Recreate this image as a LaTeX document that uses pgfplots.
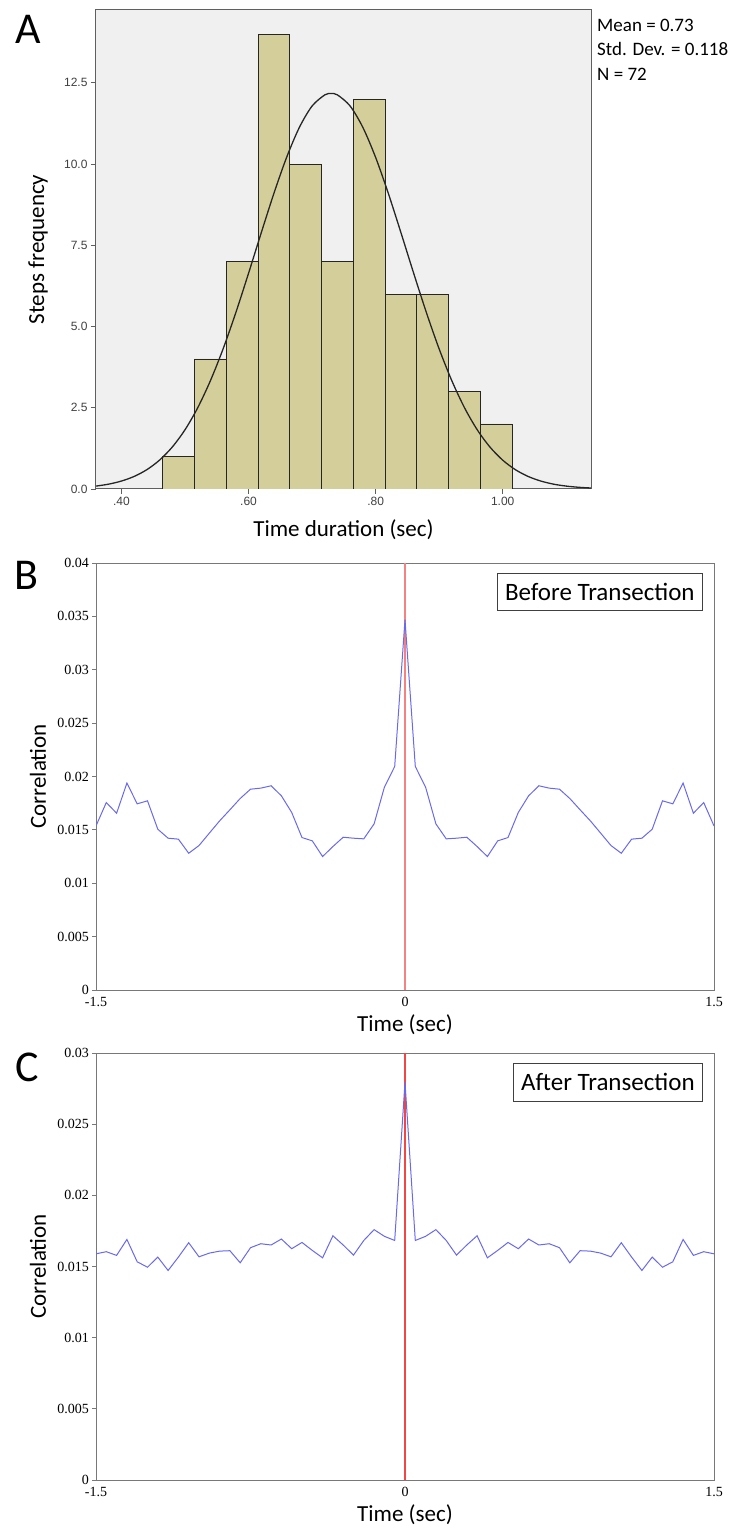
\documentclass[border=0pt]{standalone}
\usepackage{fontspec}
\setmainfont{Carlito}
\newfontfamily\tnr{Liberation Serif}
\newfontfamily\arialf{Liberation Sans}
\usepackage{pgfplots}
\pgfplotsset{compat=1.18}
\definecolor{khaki}{RGB}{212,207,154}
\definecolor{bgA}{RGB}{240,240,240}
\definecolor{frameA}{RGB}{95,95,95}
\definecolor{frameB}{RGB}{120,120,120}
\definecolor{lineblue}{RGB}{105,105,238}
\definecolor{redB}{RGB}{245,130,130}
\definecolor{redC}{RGB}{240,70,70}

\pgfplotstableread{
x y
-1.50 0.01537
-1.45 0.01756
-1.40 0.01656
-1.35 0.01938
-1.30 0.01744
-1.25 0.01772
-1.20 0.01506
-1.15 0.01422
-1.10 0.01413
-1.05 0.01281
-1.00 0.01353
-0.95 0.01469
-0.90 0.01584
-0.85 0.01688
-0.80 0.01794
-0.75 0.01881
-0.70 0.01891
-0.65 0.01913
-0.60 0.01819
-0.55 0.01663
-0.50 0.01428
-0.45 0.01397
-0.40 0.01250
-0.35 0.01344
-0.30 0.01431
-0.25 0.01422
-0.20 0.01416
-0.15 0.01556
-0.10 0.01900
-0.05 0.02094
0.00 0.03469
0.05 0.02094
0.10 0.01900
0.15 0.01556
0.20 0.01416
0.25 0.01422
0.30 0.01431
0.35 0.01344
0.40 0.01250
0.45 0.01397
0.50 0.01428
0.55 0.01663
0.60 0.01819
0.65 0.01913
0.70 0.01891
0.75 0.01881
0.80 0.01794
0.85 0.01688
0.90 0.01584
0.95 0.01469
1.00 0.01353
1.05 0.01281
1.10 0.01413
1.15 0.01422
1.20 0.01506
1.25 0.01772
1.30 0.01744
1.35 0.01938
1.40 0.01656
1.45 0.01756
1.50 0.01537
}\before

\pgfplotstableread{
x y
-1.50 0.01589
-1.45 0.01604
-1.40 0.01578
-1.35 0.01690
-1.30 0.01533
-1.25 0.01495
-1.20 0.01566
-1.15 0.01472
-1.10 0.01566
-1.05 0.01667
-1.00 0.01568
-0.95 0.01594
-0.90 0.01608
-0.85 0.01611
-0.80 0.01526
-0.75 0.01632
-0.70 0.01660
-0.65 0.01651
-0.60 0.01693
-0.55 0.01625
-0.50 0.01669
-0.45 0.01613
-0.40 0.01561
-0.35 0.01716
-0.30 0.01651
-0.25 0.01580
-0.20 0.01683
-0.15 0.01759
-0.10 0.01712
-0.05 0.01683
0.00 0.02795
0.05 0.01683
0.10 0.01712
0.15 0.01759
0.20 0.01683
0.25 0.01580
0.30 0.01651
0.35 0.01716
0.40 0.01561
0.45 0.01613
0.50 0.01669
0.55 0.01625
0.60 0.01693
0.65 0.01651
0.70 0.01660
0.75 0.01632
0.80 0.01526
0.85 0.01611
0.90 0.01608
0.95 0.01594
1.00 0.01568
1.05 0.01667
1.10 0.01566
1.15 0.01472
1.20 0.01566
1.25 0.01495
1.30 0.01533
1.35 0.01690
1.40 0.01578
1.45 0.01604
1.50 0.01589
}\after

\begin{document}
\begin{tikzpicture}
\useasboundingbox (0,0) rectangle (738bp,1528bp);

% ---------------- Panel A ----------------
\begin{axis}[
  at={(96bp,1039bp)}, anchor=south west, scale only axis,
  width=495bp, height=479bp,
  xmin=0.36, xmax=1.139, ymin=0, ymax=14.74,
  axis background/.style={fill=bgA},
  axis line style={frameA, line width=1bp},
  xtick={0.4,0.6,0.8,1.0}, xticklabels={.40,.60,.80,1.00},
  ytick={0,2.5,5,7.5,10,12.5}, yticklabels={0.0,2.5,5.0,7.5,10.0,12.5},
  tick align=outside, xtick pos=bottom, ytick pos=left, major tick length=5bp,
  tick style={frameA, line width=0.8bp},
  ticklabel style={font=\arialf\fontsize{12bp}{14bp}\selectfont, text=black!75},
  xlabel={Time duration (sec)}, ylabel={Steps frequency},
  label style={font=\fontsize{23bp}{27bp}\selectfont},
  xlabel style={at={(axis description cs:0.5,-0.0856)}, anchor=center},
  ylabel style={at={(axis description cs:-0.1172,0.5)}, anchor=center},
]
\addplot[ybar interval, fill=khaki, draw=black!85, line width=0.8bp] coordinates {
(0.465,1)(0.515,4)(0.565,7)(0.615,14)(0.665,10)(0.715,7)(0.765,12)(0.815,6)(0.865,6)(0.915,3)(0.965,2)(1.015,2)};
\addplot[black!85, line width=1.3bp, smooth, no marks] coordinates {
(0.36,0.089)(0.38,0.149)(0.40,0.244)(0.42,0.386)(0.44,0.594)(0.46,0.888)(0.48,1.290)(0.50,1.820)(0.52,2.497)(0.54,3.330)(0.56,4.311)(0.58,5.425)(0.60,6.634)(0.62,7.881)(0.64,9.098)(0.66,10.206)(0.68,11.125)(0.70,11.783)(0.72,12.126)(0.73,12.17)(0.74,12.126)(0.76,11.783)(0.78,11.125)(0.80,10.206)(0.82,9.098)(0.84,7.881)(0.86,6.634)(0.88,5.425)(0.90,4.311)(0.92,3.330)(0.94,2.497)(0.96,1.820)(0.98,1.290)(1.00,0.888)(1.02,0.594)(1.04,0.386)(1.06,0.244)(1.08,0.149)(1.10,0.089)(1.12,0.052)(1.139,0.030)};
\end{axis}

\node[anchor=west, font=\fontsize{19bp}{22bp}\selectfont, inner sep=0pt] at (597bp,1503bp) {Mean = 0.73};
\node[anchor=west, font=\fontsize{19bp}{22bp}\selectfont, inner sep=0pt] at (597bp,1479bp) {Std. Dev. = 0.118};
\node[anchor=west, font=\fontsize{19bp}{22bp}\selectfont, inner sep=0pt] at (597bp,1454bp) {N = 72};

% ---------------- Panel B ----------------
\begin{axis}[
  at={(96bp,538bp)}, anchor=south west, scale only axis,
  width=618bp, height=427bp,
  xmin=-1.5, xmax=1.5, ymin=0, ymax=0.04,
  axis line style={frameB, line width=0.9bp},
  xtick={-1.5,0,1.5}, xticklabels={-1.5,0,1.5},
  ytick={0,0.005,0.01,0.015,0.02,0.025,0.03,0.035,0.04},
  yticklabels={0,0.005,0.01,0.015,0.02,0.025,0.03,0.035,0.04},
  scaled y ticks=false,
  ytick pos=left, tick align=outside, major tick length=3.5bp,
  x tick style={draw=none}, y tick style={frameB, line width=0.8bp},
  ticklabel style={font=\tnr\fontsize{14bp}{16bp}\selectfont},
  xlabel={Time (sec)}, ylabel={Correlation},
  label style={font=\fontsize{23bp}{27bp}\selectfont},
  xlabel style={at={(axis description cs:0.5,-0.082)}, anchor=center},
  ylabel style={at={(axis description cs:-0.0939,0.5)}, anchor=center},
]
\pgfplotsinvokeforeach{0.005,0.01,0.015,0.02,0.025,0.03,0.035}{
  \draw[frameB, line width=0.8bp] (axis cs:1.5,#1) -- ++(-6bp,0);
}
\addplot[redB, line width=1.4bp] coordinates {(0,0)(0,0.04)};
\addplot[lineblue, line width=1bp, no marks] table[x=x,y=y] {\before};
\node[draw=black!75, line width=0.8bp, anchor=north east, inner xsep=8bp, minimum height=37bp,
  font=\fontsize{25bp}{30bp}\selectfont, xshift=-11bp, yshift=-10bp] at (rel axis cs:1,1) {Before Transection};
\end{axis}

% ---------------- Panel C ----------------
\begin{axis}[
  at={(96bp,48bp)}, anchor=south west, scale only axis,
  width=618bp, height=427bp,
  xmin=-1.5, xmax=1.5, ymin=0, ymax=0.03,
  axis line style={frameB, line width=0.9bp},
  xtick={-1.5,0,1.5}, xticklabels={-1.5,0,1.5},
  ytick={0,0.005,0.01,0.015,0.02,0.025,0.03},
  yticklabels={0,0.005,0.01,0.015,0.02,0.025,0.03},
  scaled y ticks=false,
  ytick pos=left, tick align=outside, major tick length=3.5bp,
  x tick style={draw=none}, y tick style={frameB, line width=0.8bp},
  ticklabel style={font=\tnr\fontsize{14bp}{16bp}\selectfont},
  xlabel={Time (sec)}, ylabel={Correlation},
  label style={font=\fontsize{23bp}{27bp}\selectfont},
  xlabel style={at={(axis description cs:0.5,-0.082)}, anchor=center},
  ylabel style={at={(axis description cs:-0.0939,0.5)}, anchor=center},
]
\pgfplotsinvokeforeach{0.005,0.01,0.015,0.02,0.025}{
  \draw[frameB, line width=0.8bp] (axis cs:1.5,#1) -- ++(-6bp,0);
}
\addplot[redC, line width=1.2bp] coordinates {(0,0)(0,0.03)};
\addplot[lineblue, line width=1bp, no marks] table[x=x,y=y] {\after};
\node[draw=black!75, line width=0.8bp, anchor=north east, inner xsep=8bp, minimum height=38bp,
  font=\fontsize{25bp}{30bp}\selectfont, xshift=-11bp, yshift=-10bp] at (rel axis cs:1,1) {After Transection};
\end{axis}

% panel letters
\node[font=\fontsize{44bp}{50bp}\selectfont] at (28bp,1499bp) {A};
\node[font=\fontsize{44bp}{50bp}\selectfont] at (26bp,953bp) {B};
\node[font=\fontsize{44bp}{50bp}\selectfont] at (27bp,461bp) {C};
\end{tikzpicture}
\end{document}
